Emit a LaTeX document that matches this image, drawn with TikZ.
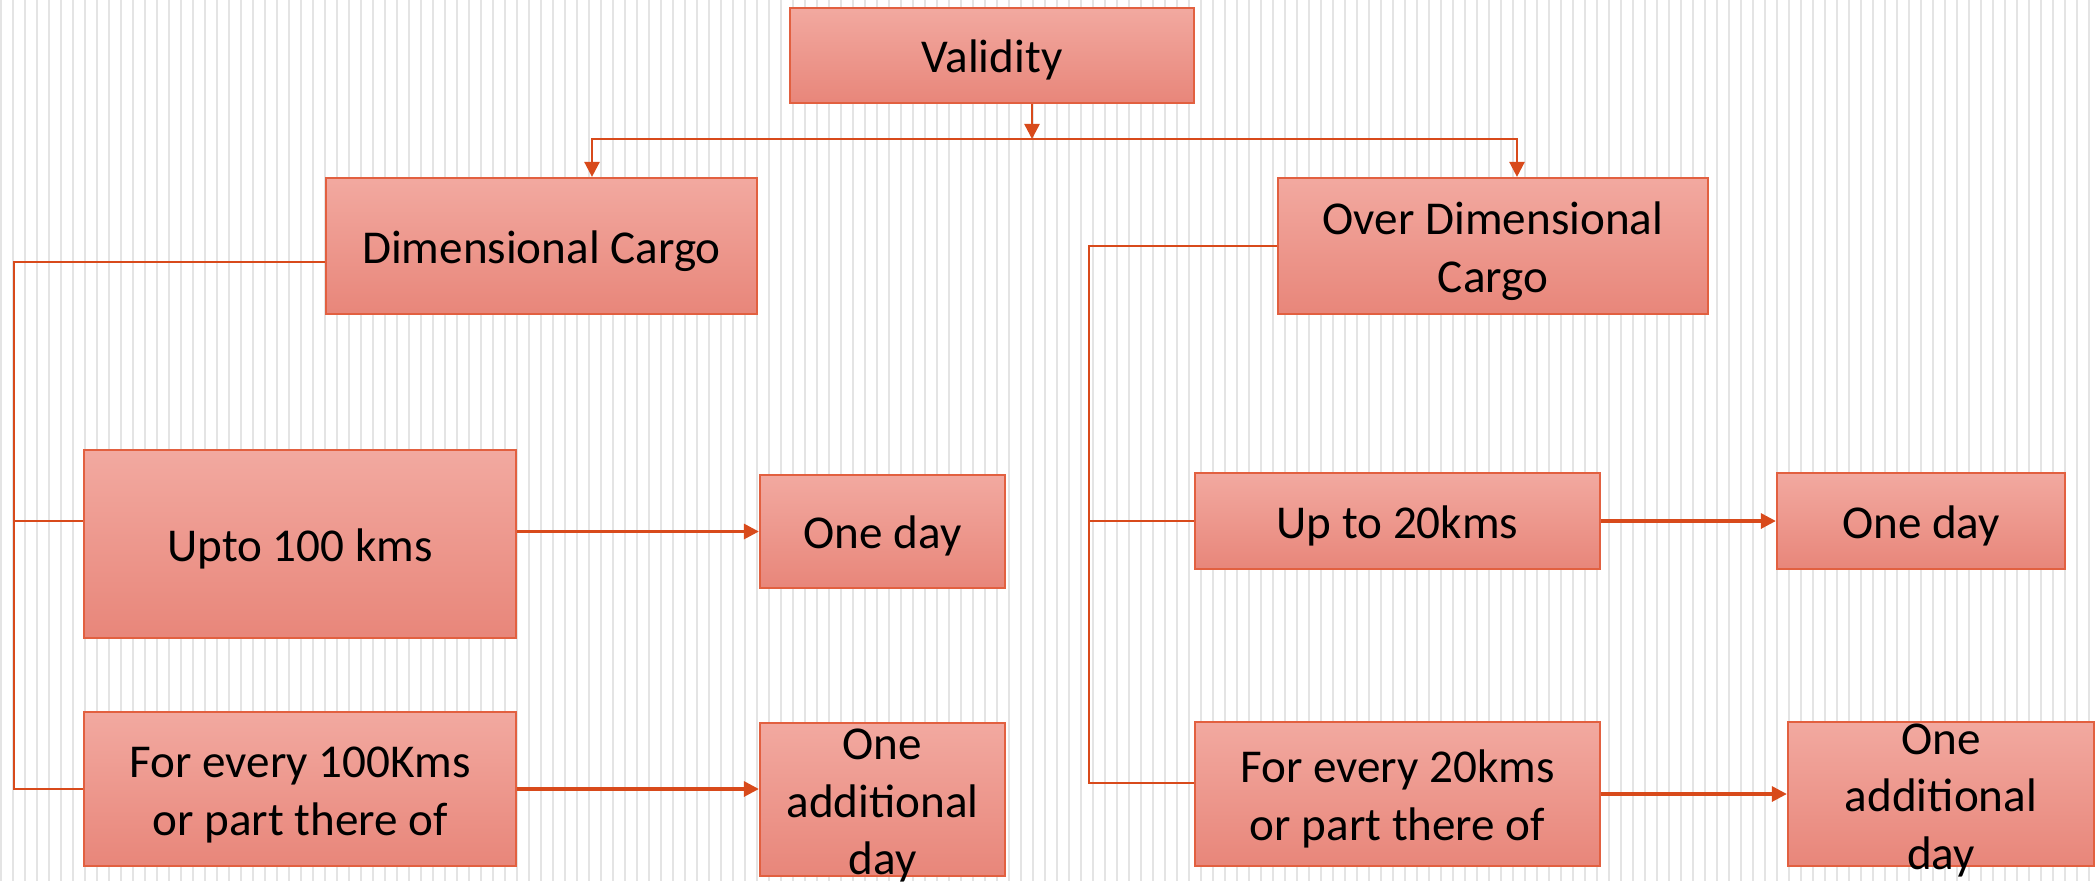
\documentclass[tikz,border=0pt]{standalone}
\usepackage{fontspec}
\setmainfont{Carlito}
\usetikzlibrary{positioning,arrows.meta}

\definecolor{boxtop}{RGB}{242,169,160}
\definecolor{boxbottom}{RGB}{232,134,122}
\definecolor{boxline}{RGB}{226,96,64}
\definecolor{linkline}{RGB}{216,74,27}
\definecolor{gridgray}{RGB}{228,228,228}

% lines of text centred in a box, allowed to run over its edges
\newcommand{\cardlines}[1]{\smash{\raisebox{0.05em}{\begin{tabular}{@{}c@{}}#1\end{tabular}}}}

\tikzset{
  card/.style={draw=boxline, line width=0.6pt, top color=boxtop, bottom color=boxbottom,
    align=center, inner sep=2pt, font=\fontsize{13.4}{16.4}\selectfont,
    execute at begin node={\rule{0pt}{0.9em}}},
  tree/.style={draw=linkline, line width=0.5pt},
  arr/.style={draw=linkline, line width=0.7pt, -{Triangle[length=1.5mm,width=1.5mm]}},
  harr/.style={draw=linkline, line width=0.9pt, -{Triangle[length=1.5mm,width=1.5mm]}}
}

\begin{document}
\begin{tikzpicture}[x=0.01cm, y=-0.01cm]

		% Background with vertical rules
		\useasboundingbox (0,0) rectangle (2096,881);
		\fill[white] (0,0) rectangle (2096,881);
		\foreach \i in {0,...,87} {
			\draw[gridgray, line width=0.3pt] (1+24*\i,0) -- (1+24*\i,881);
			\draw[gridgray, line width=0.6pt] (13+24*\i,0) -- (13+24*\i,881);
		}

		% Draw the boxes
		\node[card, minimum width=4.04cm, minimum height=0.95cm] (valid) at (992,55.5) {Validity};
		\node[card, minimum width=4.31cm, minimum height=1.36cm] (dim) at (541.5,246) {Dimensional Cargo};
		\node[card, minimum width=4.30cm, minimum height=1.36cm] (over) at (1493,246) {\cardlines{Over Dimensional\\Cargo}};

		\node[card, minimum width=4.32cm, minimum height=1.88cm] (upto) at (300,544) {Upto 100 kms};
		\node[card, minimum width=4.32cm, minimum height=1.54cm] (forevery) at (300,789) {\cardlines{For every 100Kms\\or part there of}};
		\node[card, minimum width=2.45cm, minimum height=1.13cm] (oneday) at (882.5,531.5) {One day};
		\node[card, minimum width=2.45cm, minimum height=1.53cm] (addl) at (882.5,799.5) {\cardlines{One\\additional\\day}};

		\node[card, minimum width=4.05cm, minimum height=0.96cm] (uptotwenty) at (1397.5,521) {Up to 20kms};
		\node[card, minimum width=4.05cm, minimum height=1.44cm] (everytwenty) at (1397.5,794) {\cardlines{For every 20kms\\or part there of}};
		\node[card, minimum width=2.88cm, minimum height=0.96cm] (onedaytwo) at (1921,521) {One day};
		\node[card, minimum width=3.06cm, minimum height=1.44cm] (addltwo) at (1941,794) {\cardlines{One\\additional\\day}};

		% Top split
		\coordinate (split) at (1032,139);
		\coordinate (lsplit) at (592,139);
		\coordinate (rsplit) at (1517,139);
		\draw[arr] (split |- valid.south) -- (split);
		\draw[arr] (split) -- (lsplit) -- (lsplit |- dim.north);
		\draw[arr] (split) -- (rsplit) -- (rsplit |- over.north);

		% Left tree
		\coordinate (lrail) at (14,262);
		\coordinate (lmid) at (14,521);
		\coordinate (lbot) at (14,789);
		\draw[tree] (lrail -| dim.west) -- (lrail) -- (lbot) -- (lbot -| forevery.west);
		\draw[tree] (lmid) -- (lmid -| upto.west);

		% Right tree
		\coordinate (rrail) at (1089,246);
		\coordinate (rbot) at (1089,783);
		\draw[tree] (over.west) -- (rrail) -- (rbot) -- (rbot -| everytwenty.west);
		\draw[tree] (rrail |- uptotwenty.west) -- (uptotwenty.west);

		% Results
		\draw[harr] (upto.east |- oneday.west) -- (oneday.west);
		\draw[harr] (forevery.east) -- (forevery.east -| addl.west);
		\draw[harr] (uptotwenty.east) -- (onedaytwo.west);
		\draw[harr] (everytwenty.east) -- (everytwenty.east -| addltwo.west);

	\end{tikzpicture}
\end{document}
